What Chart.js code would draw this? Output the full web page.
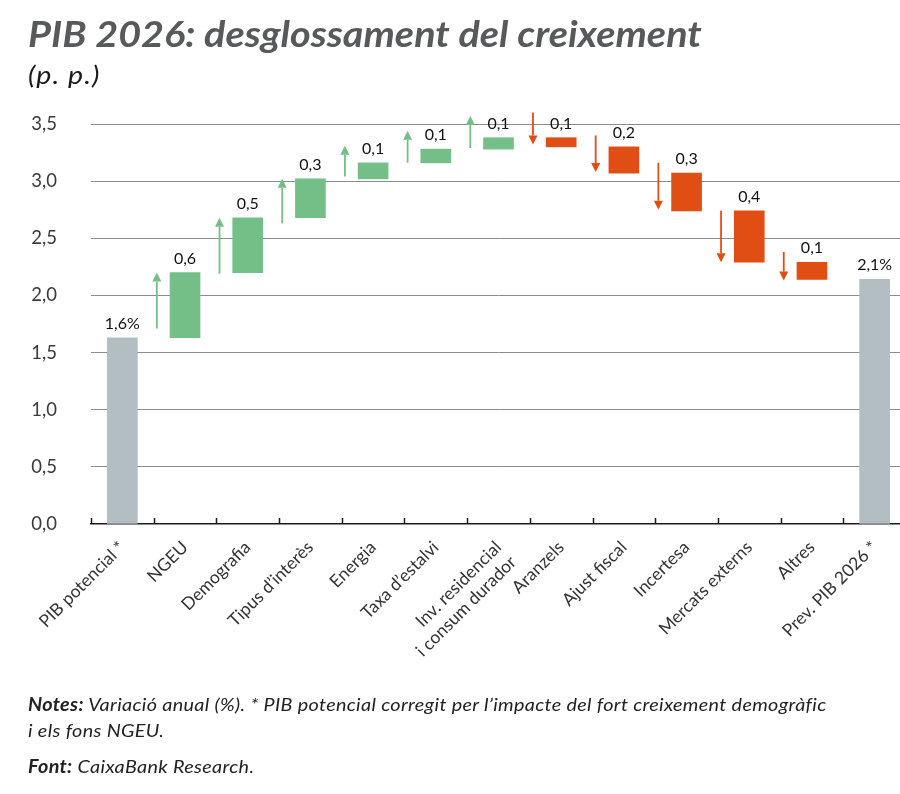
<!DOCTYPE html>
<html>
<head>
<meta charset="utf-8">
<script src="https://cdn.jsdelivr.net/npm/chart.js@4.4.0/dist/chart.umd.min.js"></script>
<style>
  html, body { margin: 0; padding: 0; width: 900px; height: 794px; overflow: hidden; background: #fff; }
  #wrap { position: absolute; left: 0; top: 0; width: 906px; height: 794px; }
  .title { position: absolute; left: 28px; top: 11px; font: italic bold 36px Lato, sans-serif; color: #58595b; white-space: nowrap; transform: scaleX(1.1); transform-origin: left top; }
  .unit { position: absolute; left: 28px; top: 58px; font: italic 26px Lato, sans-serif; color: #1a1a1a; white-space: nowrap; letter-spacing: 1px; transform: scaleX(1.1); transform-origin: left top; }
  .notes { position: absolute; left: 28px; font: italic 18px Lato, sans-serif; color: #222; white-space: nowrap; line-height: 26px; letter-spacing: 0.3px; transform: scaleX(1.1); transform-origin: left top; }
  .notes b { font-weight: bold; }
</style>
</head>
<body>
<div id="wrap"><canvas id="chart" width="906" height="794"></canvas></div>
<div class="title">PIB 2026: desglossament del creixement</div>
<div class="unit">(p. p.)</div>
<div class="notes" style="top:691px"><b>Notes:</b> Variació anual (%). * PIB potencial corregit per l’impacte del fort creixement demogràfic<br>i els fons NGEU.</div>
<div class="notes" style="top:753px"><b>Font:</b> CaixaBank Research.</div>
<script>
const categories = [
  'PIB potencial *', 'NGEU', 'Demografia', 'Tipus d’interès', 'Energia', 'Taxa d’estalvi',
  ['Inv. residencial', 'i consum durador'], 'Aranzels', 'Ajust fiscal', 'Incertesa',
  'Mercats externs', 'Altres', 'Prev. PIB 2026 *'
];
const barKind = ['total', 'up', 'up', 'up', 'up', 'up', 'up', 'down', 'down', 'down', 'down', 'down', 'total'];
const barStart = [0, 1.63, 2.20, 2.68, 3.02, 3.16, 3.28, 3.38, 3.30, 3.07, 2.74, 2.29, 0];
const barEnd = [1.63, 2.20, 2.68, 3.02, 3.16, 3.28, 3.38, 3.30, 3.07, 2.74, 2.29, 2.14, 2.14];
const valueLabels = ['1,6%', '0,6', '0,5', '0,3', '0,1', '0,1', '0,1', '0,1', '0,2', '0,3', '0,4', '0,1', '2,1%'];
const arrowFrom = [null, 1.71, 2.19, 2.63, 3.04, 3.16, 3.29, 3.60, 3.40, 3.16, 2.74, 2.38, null];
const arrowTo = [null, 2.20, 2.68, 3.02, 3.31, 3.44, 3.57, 3.32, 3.08, 2.75, 2.29, 2.13, null];
const yTicks = [0, 0.5, 1.0, 1.5, 2.0, 2.5, 3.0, 3.5];

const kindColor = { total: '#b3bec3', up: '#73bf87', down: '#e04e14' };

const fmt = (v) => v.toFixed(1).replace('.', ',');

// arrows to the left of each step bar
const arrowPlugin = {
  id: 'arrows',
  afterDatasetsDraw(chart) {
    const { ctx, scales: { x, y } } = chart;
    const step = x.getPixelForValue(1) - x.getPixelForValue(0);
    ctx.save();
    arrowFrom.forEach((from, i) => {
      if (from === null) return;
      const to = arrowTo[i];
      const px = x.getPixelForValue(i) - step * 0.45;
      const y0 = y.getPixelForValue(from);
      const y1 = y.getPixelForValue(to);
      const dir = y1 < y0 ? 1 : -1;
      const head = 9;
      ctx.strokeStyle = kindColor[barKind[i]];
      ctx.fillStyle = kindColor[barKind[i]];
      ctx.lineWidth = 1.8;
      ctx.beginPath();
      ctx.moveTo(px, y0);
      ctx.lineTo(px, y1 + dir * head);
      ctx.stroke();
      ctx.beginPath();
      ctx.moveTo(px, y1);
      ctx.lineTo(px - 4.5, y1 + dir * head);
      ctx.lineTo(px + 4.5, y1 + dir * head);
      ctx.closePath();
      ctx.fill();
    });
    ctx.restore();
  }
};

// value labels above bars and the small upward ticks on the x axis
const labelPlugin = {
  id: 'valueLabels',
  afterDatasetsDraw(chart) {
    const { ctx, chartArea, scales: { x, y } } = chart;
    ctx.save();
    ctx.font = '16px Lato, sans-serif';
    ctx.fillStyle = '#111';
    ctx.textAlign = 'center';
    ctx.textBaseline = 'alphabetic';
    valueLabels.forEach((t, i) => {
      const top = y.getPixelForValue(Math.max(barStart[i], barEnd[i]));
      ctx.fillText(t, x.getPixelForValue(i), top - 9);
    });
    const step = x.getPixelForValue(1) - x.getPixelForValue(0);
    ctx.strokeStyle = '#1a1a1a';
    ctx.lineWidth = 1.5;
    for (let i = 0; i <= categories.length; i++) {
      const bx = Math.round(x.getPixelForValue(0) - step / 2 + i * step) + 0.5;
      ctx.beginPath();
      ctx.moveTo(bx, chartArea.bottom - 6);
      ctx.lineTo(bx, chartArea.bottom);
      ctx.stroke();
    }
    ctx.restore();
  }
};

new Chart(document.getElementById('chart'), {
  type: 'bar',
  data: {
    labels: categories,
    datasets: [{
      data: categories.map((_, i) => [barStart[i], barEnd[i]]),
      backgroundColor: barKind.map(k => kindColor[k]),
      borderWidth: 0,
      borderSkipped: false,
      barThickness: 30
    }]
  },
  options: {
    responsive: false,
    animation: false,
    layout: { padding: { top: 124, left: 0, right: 0, bottom: 0 } },
    plugins: { legend: { display: false }, tooltip: { enabled: false } },
    scales: {
      x: {
        grid: { display: false, drawTicks: false },
        border: { color: '#1a1a1a', width: 1.5 },
        ticks: {
          autoSkip: false,
          minRotation: 45,
          maxRotation: 45,
          padding: 13,
          color: '#333',
          font: { family: 'Lato', size: 17.5 }
        },
        afterFit: (s) => { s.height = 270; }
      },
      y: {
        min: 0,
        max: 3.5,
        afterBuildTicks: (s) => { s.ticks = yTicks.map(v => ({ value: v })); },
        grid: {
          drawTicks: false,
          color: (c) => c.tick && c.tick.value === 0 ? 'rgba(0,0,0,0)' : '#8c8c8c',
          lineWidth: 1
        },
        border: { display: false },
        ticks: {
          padding: 34,
          color: '#3a3a3a',
          font: { family: 'Lato', size: 18.5 },
          callback: (v) => fmt(v)
        },
        afterFit: (s) => { s.width = 91; }
      }
    }
  },
  plugins: [arrowPlugin, labelPlugin]
});
</script>
</body>
</html>
